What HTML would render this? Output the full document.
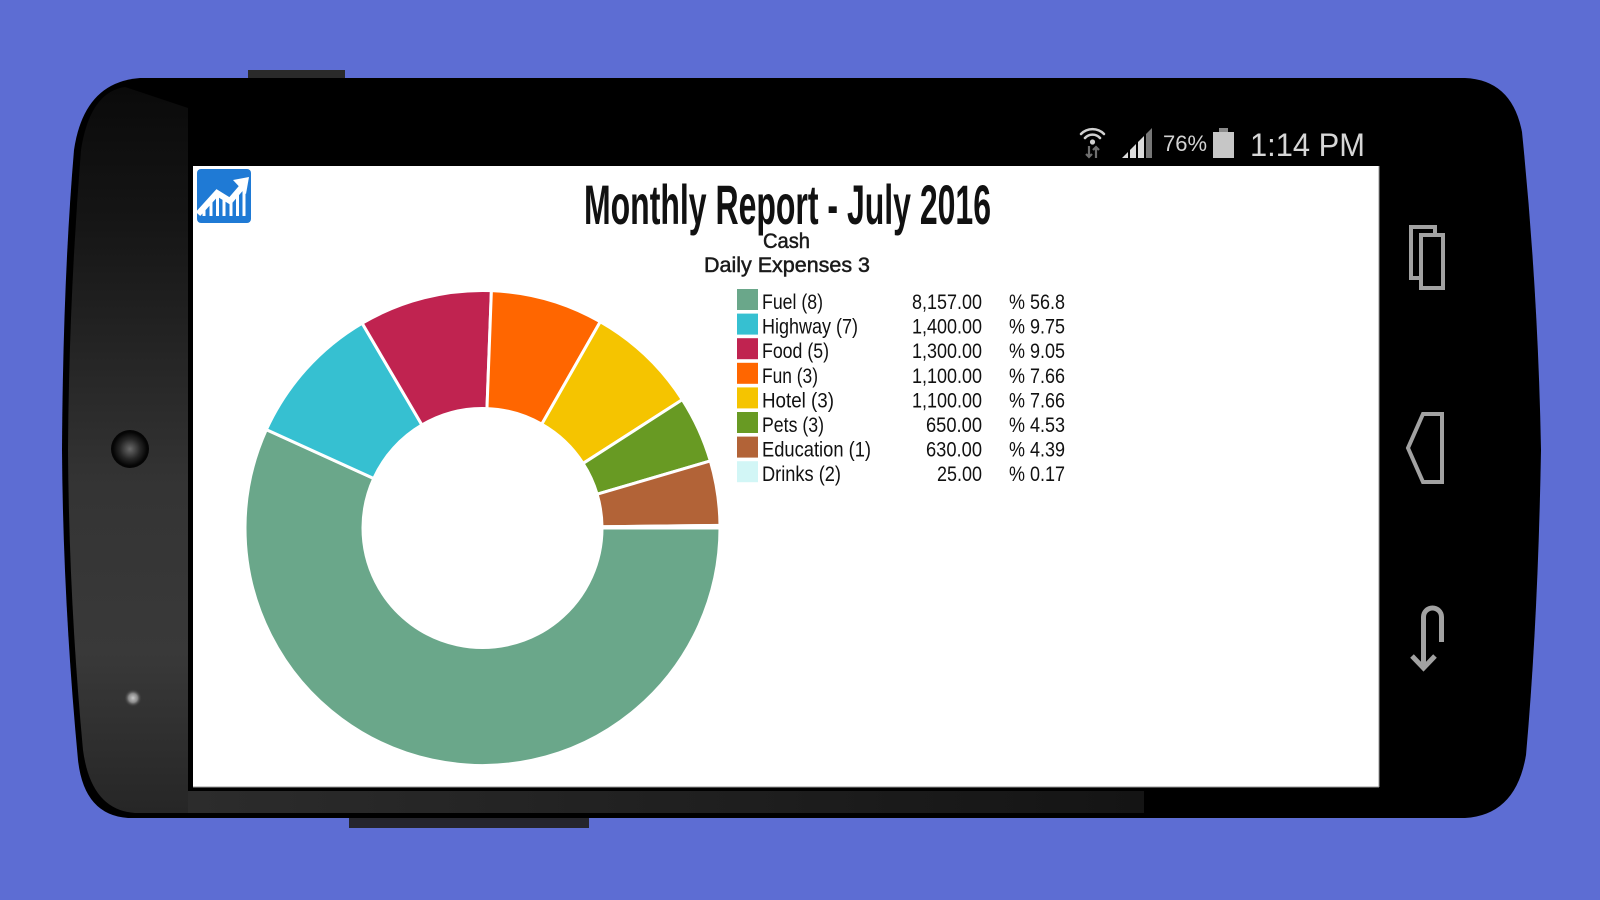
<!DOCTYPE html>
<html>
<head>
<meta charset="utf-8">
<style>
  html,body{margin:0;padding:0;background:#5d6dd3;}
  body{width:1600px;height:900px;overflow:hidden;}
  svg{display:block;}
</style>
</head>
<body>
<svg width="1600" height="900" viewBox="0 0 1600 900" xmlns="http://www.w3.org/2000/svg">
  <defs>
    <linearGradient id="panel" x1="0" y1="0" x2="0" y2="1">
      <stop offset="0" stop-color="#0a0a0a"/>
      <stop offset="0.18" stop-color="#151515"/>
      <stop offset="0.55" stop-color="#343434"/>
      <stop offset="0.78" stop-color="#393939"/>
      <stop offset="1" stop-color="#262626"/>
    </linearGradient>
    <linearGradient id="strip" x1="0" y1="0" x2="1" y2="0">
      <stop offset="0" stop-color="#2c2c2c"/>
      <stop offset="1" stop-color="#141414"/>
    </linearGradient>
    <radialGradient id="cam" cx="0.5" cy="0.5" r="0.5">
      <stop offset="0" stop-color="#6a6a6a"/>
      <stop offset="0.6" stop-color="#262626"/>
      <stop offset="1" stop-color="#050505"/>
    </radialGradient>
    <radialGradient id="sensor" cx="0.5" cy="0.5" r="0.5">
      <stop offset="0" stop-color="#c8c8c8"/>
      <stop offset="0.5" stop-color="#8a8a8a"/>
      <stop offset="1" stop-color="#333333" stop-opacity="0"/>
    </radialGradient>
  </defs>

  <!-- background -->
  <rect x="0" y="0" width="1600" height="900" fill="#5d6dd3"/>

  <!-- buttons -->
  <rect x="248" y="70" width="97" height="12" fill="#2a2a2a"/>
  <rect x="349" y="814" width="240" height="14" fill="#25252c"/>

  <!-- phone body -->
  <path d="M140,78 L1465,78 Q1512,80 1522,132 Q1538,290 1541,450 Q1538,620 1526,755 Q1516,815 1465,818 L128,818 Q84,815 78,760 Q63,600 62,450 Q63,280 74,150 Q84,82 140,78 Z" fill="#000"/>

  <!-- left side panel -->
  <path d="M188,108 L125,87 Q90,92 81,150 Q69,300 68,450 Q69,600 83,750 Q91,810 135,813 L188,813 Z" fill="url(#panel)"/>
  <!-- bottom strip -->
  <rect x="188" y="791" width="956" height="22" fill="url(#strip)"/>

  <!-- camera & sensor -->
  <circle cx="130" cy="449" r="19" fill="#050505"/>
  <circle cx="130" cy="449" r="17" fill="url(#cam)"/>
  <circle cx="133" cy="698" r="9" fill="url(#sensor)"/>

  <!-- status bar -->
  <g fill="none" stroke="#d0d0d0" stroke-width="2.6" stroke-linecap="round">
    <path d="M1081,134 A16,16 0 0 1 1104,134"/>
    <path d="M1085,138 A10,10 0 0 1 1100,138"/>
  </g>
  <circle cx="1092.5" cy="142" r="2.6" fill="#d0d0d0"/>
  <g stroke="#6e6e6e" stroke-width="2.2" fill="none">
    <path d="M1089,146 V157 M1086,154 L1089,157 L1092,154"/>
    <path d="M1096,158 V147 M1093,150 L1096,147 L1099,150"/>
  </g>
  <g fill="#dcdcdc">
    <polygon points="1122,158 1128,152 1128,158"/>
    <polygon points="1130,158 1130,150 1136,144 1136,158"/>
    <polygon points="1138,158 1138,142 1144,136 1144,158"/>
  </g>
  <polygon points="1146,158 1146,134 1152,128 1152,158" fill="#777"/>
  <text x="1163" y="151" font-family="Liberation Sans, sans-serif" font-size="22" fill="#d2d2d2" textLength="44" lengthAdjust="spacingAndGlyphs">76%</text>
  <rect x="1219" y="128" width="9" height="4" fill="#8a8a8a"/>
  <rect x="1213" y="132" width="21" height="26" fill="#c6c6c6"/>
  <text x="1250" y="156" font-family="Liberation Sans, sans-serif" font-size="32" fill="#d6d6d6" textLength="115" lengthAdjust="spacingAndGlyphs">1:14 PM</text>

  <!-- nav icons -->
  <g fill="none" stroke="#a2a2a2" stroke-width="4">
    <path d="M1419,278 H1411 V227 H1435 V233"/>
    <rect x="1421" y="235" width="22" height="53"/>
    <polygon points="1423,414 1442,414 1442,482 1423,482 1408,448"/>
  </g>
  <g fill="none" stroke="#a2a2a2" stroke-width="5">
    <path d="M1423.5,666 V617 A9,9 0 0 1 1441.5,617 V642"/>
    <path d="M1412,656 L1423.5,668 L1435,656"/>
  </g>

  <!-- screen -->
  <rect x="193" y="166" width="1186" height="621" fill="#ffffff"/>
  <line x1="1379" y1="166" x2="1379" y2="787" stroke="#9a9a9a" stroke-width="1"/>
  <line x1="193" y1="787" x2="1379" y2="787" stroke="#9a9a9a" stroke-width="1"/>

  <!-- app icon -->
  <rect x="197" y="169" width="54" height="54" rx="4" fill="#1f7ad5"/>
  <g stroke="#ffffff" stroke-width="3">
    <line x1="204" y1="208" x2="204" y2="216"/>
    <line x1="211" y1="200" x2="211" y2="216"/>
    <line x1="217.5" y1="195" x2="217.5" y2="216"/>
    <line x1="224" y1="198" x2="224" y2="216"/>
    <line x1="231" y1="200" x2="231" y2="216"/>
    <line x1="237.5" y1="193" x2="237.5" y2="216"/>
    <line x1="244" y1="188" x2="244" y2="216"/>
  </g>
  <polyline points="198,214 217,193 230,201 242,187" fill="none" stroke="#ffffff" stroke-width="6" stroke-linejoin="miter"/>
  <polygon points="249,177 233,180 246,194" fill="#ffffff"/>

  <!-- titles -->
  <text x="584" y="224" font-family="Liberation Sans Narrow, Liberation Sans, sans-serif" font-weight="bold" font-size="56" fill="#111" textLength="407" lengthAdjust="spacingAndGlyphs">Monthly Report - July 2016</text>
  <text x="763" y="248" font-family="Liberation Sans, sans-serif" font-size="21" fill="#1a1a1a" stroke="#1a1a1a" stroke-width="0.5" textLength="47" lengthAdjust="spacingAndGlyphs">Cash</text>
  <text x="704" y="272" font-family="Liberation Sans, sans-serif" font-size="21" fill="#1a1a1a" stroke="#1a1a1a" stroke-width="0.5" textLength="166" lengthAdjust="spacingAndGlyphs">Daily Expenses 3</text>

  <!-- donut -->
  <g stroke="#ffffff" stroke-width="3" stroke-linejoin="round">
    <path fill="#6aa78a" d="M720,528 A237.5,237.5 0 1 1 266.33,429.64 L373.73,478.51 A119.5,119.5 0 1 0 602,528 Z"/>
    <path fill="#36c0d1" d="M266.33,429.64 A237.5,237.5 0 0 1 362.17,323.23 L421.95,424.97 A119.5,119.5 0 0 0 373.73,478.51 Z"/>
    <path fill="#c02350" d="M362.17,323.23 A237.5,237.5 0 0 1 491.39,290.67 L486.97,408.58 A119.5,119.5 0 0 0 421.95,424.97 Z"/>
    <path fill="#ff6600" d="M491.39,290.67 A237.5,237.5 0 0 1 600.24,321.73 L541.74,424.22 A119.5,119.5 0 0 0 486.97,408.58 Z"/>
    <path fill="#f5c400" d="M600.24,321.73 A237.5,237.5 0 0 1 682.34,399.66 L583.05,463.43 A119.5,119.5 0 0 0 541.74,424.22 Z"/>
    <path fill="#689a23" d="M682.34,399.66 A237.5,237.5 0 0 1 710.32,460.88 L597.13,494.23 A119.5,119.5 0 0 0 583.05,463.43 Z"/>
    <path fill="#b26337" d="M710.32,460.88 A237.5,237.5 0 0 1 719.99,525.41 L601.99,526.70 A119.5,119.5 0 0 0 597.13,494.23 Z"/>
    <path fill="#ccf5f5" d="M719.99,525.41 A237.5,237.5 0 0 1 720,528 L602,528 A119.5,119.5 0 0 0 601.99,526.70 Z"/>
  </g>

  <!-- legend -->
  <g transform="translate(0,-1)">
    <rect x="737" y="290" width="21" height="21" fill="#6aa78a"/>
    <rect x="737" y="314.6" width="21" height="21" fill="#36c0d1"/>
    <rect x="737" y="339.2" width="21" height="21" fill="#c02350"/>
    <rect x="737" y="363.8" width="21" height="21" fill="#ff6600"/>
    <rect x="737" y="388.4" width="21" height="21" fill="#f5c400"/>
    <rect x="737" y="413" width="21" height="21" fill="#689a23"/>
    <rect x="737" y="437.6" width="21" height="21" fill="#b26337"/>
    <rect x="737" y="462.2" width="21" height="21" fill="#d2f6f6"/>
  </g>
  <g font-family="Liberation Sans, sans-serif" font-size="21" fill="#111" transform="translate(0,-1)">
    <text x="762" y="310" textLength="61" lengthAdjust="spacingAndGlyphs">Fuel (8)</text>
    <text x="762" y="334.6" textLength="96" lengthAdjust="spacingAndGlyphs">Highway (7)</text>
    <text x="762" y="359.2" textLength="67" lengthAdjust="spacingAndGlyphs">Food (5)</text>
    <text x="762" y="383.8" textLength="56" lengthAdjust="spacingAndGlyphs">Fun (3)</text>
    <text x="762" y="408.4" textLength="72" lengthAdjust="spacingAndGlyphs">Hotel (3)</text>
    <text x="762" y="433" textLength="62" lengthAdjust="spacingAndGlyphs">Pets (3)</text>
    <text x="762" y="457.6" textLength="109" lengthAdjust="spacingAndGlyphs">Education (1)</text>
    <text x="762" y="482.2" textLength="79" lengthAdjust="spacingAndGlyphs">Drinks (2)</text>

    <text x="912" y="310" textLength="70" lengthAdjust="spacingAndGlyphs">8,157.00</text>
    <text x="912" y="334.6" textLength="70" lengthAdjust="spacingAndGlyphs">1,400.00</text>
    <text x="912" y="359.2" textLength="70" lengthAdjust="spacingAndGlyphs">1,300.00</text>
    <text x="912" y="383.8" textLength="70" lengthAdjust="spacingAndGlyphs">1,100.00</text>
    <text x="912" y="408.4" textLength="70" lengthAdjust="spacingAndGlyphs">1,100.00</text>
    <text x="926" y="433" textLength="56" lengthAdjust="spacingAndGlyphs">650.00</text>
    <text x="926" y="457.6" textLength="56" lengthAdjust="spacingAndGlyphs">630.00</text>
    <text x="937" y="482.2" textLength="45" lengthAdjust="spacingAndGlyphs">25.00</text>

    <text x="1009" y="310" textLength="56" lengthAdjust="spacingAndGlyphs">% 56.8</text>
    <text x="1009" y="334.6" textLength="56" lengthAdjust="spacingAndGlyphs">% 9.75</text>
    <text x="1009" y="359.2" textLength="56" lengthAdjust="spacingAndGlyphs">% 9.05</text>
    <text x="1009" y="383.8" textLength="56" lengthAdjust="spacingAndGlyphs">% 7.66</text>
    <text x="1009" y="408.4" textLength="56" lengthAdjust="spacingAndGlyphs">% 7.66</text>
    <text x="1009" y="433" textLength="56" lengthAdjust="spacingAndGlyphs">% 4.53</text>
    <text x="1009" y="457.6" textLength="56" lengthAdjust="spacingAndGlyphs">% 4.39</text>
    <text x="1009" y="482.2" textLength="56" lengthAdjust="spacingAndGlyphs">% 0.17</text>
  </g>
</svg>
</body>
</html>
